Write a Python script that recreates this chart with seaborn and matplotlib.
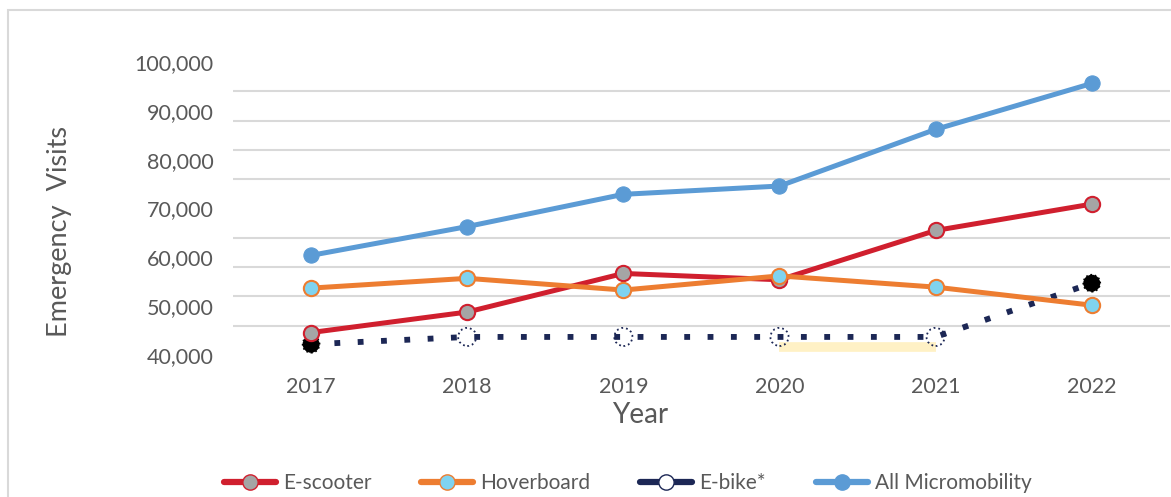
import numpy as np
import pandas as pd
import seaborn as sns
import matplotlib.pyplot as plt
from matplotlib.lines import Line2D
from matplotlib.patches import Rectangle

# values
years = ["2017", "2018", "2019", "2020", "2021", "2022"]
escooter = [44600, 48800, 56700, 55400, 65500, 70900]
hoverboard = [53700, 55700, 53300, 56200, 53900, 50200]
ebike = [42200, 43700, 43700, 43700, 43700, 54700]
ebike_solid = [True, False, False, False, False, True]  # black-filled points
micromobility = [60400, 66300, 72900, 74600, 86200, 95600]
glow_years = ["2020", "2021"]
glow_value = 41600

ytick_values = [40000, 50000, 60000, 70000, 80000, 90000, 100000]
ytick_labels = ["40,000", "50,000", "60,000", "70,000", "80,000", "90,000", "100,000"]
grid_values = np.linspace(40000, 100000, 11)

RED = "#d01f2e"
ORANGE = "#ed7d31"
BLUE = "#5b9bd5"
NAVY = "#1c2755"
TEXT = "#595959"

sns.set_theme(style="white")
plt.rcParams["font.family"] = ["Lato", "DejaVu Sans"]

fig = plt.figure(figsize=(11.71, 4.97), dpi=100)
ax = fig.add_axes([0.199, 0.2857, 0.8, 0.5896])

df = pd.DataFrame({"year": years, "E-scooter": escooter, "Hoverboard": hoverboard,
                   "E-bike*": ebike, "All Micromobility": micromobility})

lw = 3.6
ms = 11

# e-bike dotted line
sns.lineplot(data=df, x="year", y="E-bike*", ax=ax, color=NAVY, lw=4.2,
             linestyle=(0, (1, 3)), dash_capstyle="butt", zorder=3)
eb = df[~np.array(ebike_solid)]
ax.scatter(eb["year"], eb["E-bike*"], s=170, facecolor="none", edgecolor=NAVY,
           linewidths=1.3, linestyles=":", zorder=4)
ebs = df[np.array(ebike_solid)]
ax.scatter(ebs["year"], ebs["E-bike*"], s=150, facecolor="black", edgecolor="black",
           linewidths=1.2, linestyles=":", zorder=4, clip_on=False)

sns.lineplot(data=df, x="year", y="All Micromobility", ax=ax, color=BLUE, lw=lw,
             marker="o", markersize=ms, markerfacecolor=BLUE, markeredgecolor=BLUE, zorder=5)
sns.lineplot(data=df, x="year", y="E-scooter", ax=ax, color=RED, lw=lw,
             marker="o", markersize=ms, markerfacecolor="#a5a5a5", markeredgecolor=RED,
             markeredgewidth=1.5, zorder=6)
sns.lineplot(data=df, x="year", y="Hoverboard", ax=ax, color=ORANGE, lw=lw,
             marker="o", markersize=ms, markerfacecolor="#7fd3f0", markeredgecolor=ORANGE,
             markeredgewidth=1.5, zorder=7)

# faint yellow highlight under the e-bike line
ax.plot(glow_years, [glow_value] * 2, color="#ffd23f", lw=7, alpha=0.3,
        solid_capstyle="butt", zorder=1)

ax.set_xlim(-0.5, len(years) - 0.5)
ax.set_ylim(40000, 100000)
ax.set_yticks(ytick_values)
ax.set_yticklabels(ytick_labels)
ax.set_yticks(grid_values, minor=True)
ax.grid(False)
ax.grid(True, which="minor", axis="y", color="#d9d9d9", lw=1.5, zorder=0)
ax.set_axisbelow(True)
for s in ax.spines.values():
    s.set_visible(False)
ax.tick_params(axis="both", which="both", length=0, labelsize=15.5, labelcolor=TEXT)
ax.tick_params(axis="y", pad=14)
ax.tick_params(axis="x", pad=16)

ax.set_xlabel("Year", fontsize=20, color=TEXT)
ax.set_ylabel("Emergency  Visits", fontsize=19.5, color=TEXT)
ax.xaxis.set_label_coords(0.435, -0.16)
ax.yaxis.set_label_coords(-0.172, 0.42)

# outer chart border
fig.patches.append(Rectangle((8 / 1171, -0.1), 1.2, 1 - 10 / 497 + 0.1,
                             transform=fig.transFigure, fill=False,
                             edgecolor="#d9d9d9", lw=1.5))

handles = [
    Line2D([], [], color=RED, lw=4.5, marker="o", markersize=ms,
           markerfacecolor="#a5a5a5", markeredgecolor=RED),
    Line2D([], [], color=ORANGE, lw=4.5, marker="o", markersize=ms,
           markerfacecolor="#7fd3f0", markeredgecolor=ORANGE),
    Line2D([], [], color=NAVY, lw=4.5, marker="o", markersize=ms,
           markerfacecolor="white", markeredgecolor=NAVY, markeredgewidth=1),
    Line2D([], [], color=BLUE, lw=4.5, marker="o", markersize=ms,
           markerfacecolor=BLUE, markeredgecolor=BLUE),
]
labels = ["E-scooter", "Hoverboard", "E-bike*", "All Micromobility"]
fig.legend(handles, labels, loc="center", bbox_to_anchor=(0.536, 0.028), ncol=4,
           frameon=False, fontsize=15, labelcolor=TEXT, handlelength=2.5,
           handletextpad=0.33, columnspacing=2.4)

fig.savefig("out.png", dpi=100)
